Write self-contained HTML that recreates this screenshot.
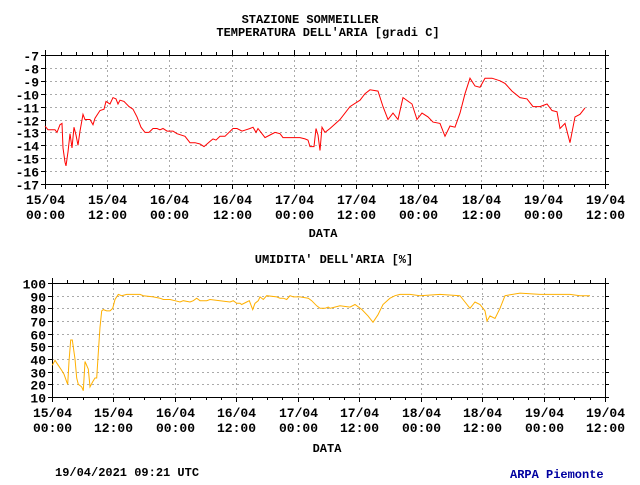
<!DOCTYPE html>
<html><head><meta charset="utf-8"><style>
body{margin:0;background:#fff}
svg text{font-family:"Liberation Mono",monospace;font-weight:bold;fill:#000}
</style></head><body>
<svg id="s" width="640" height="480" xmlns="http://www.w3.org/2000/svg">
<text x="310" y="23" font-size="12" text-anchor="middle">STAZIONE SOMMEILLER</text>
<text x="328" y="36" font-size="12" text-anchor="middle">TEMPERATURA DELL'ARIA [gradi C]</text>
<text x="323" y="237" font-size="12" text-anchor="middle">DATA</text>
<text x="334" y="263" font-size="12" text-anchor="middle">UMIDITA' DELL'ARIA [%]</text>
<text x="327" y="452" font-size="12" text-anchor="middle">DATA</text>
<text x="55" y="476" font-size="12">19/04/2021 09:21 UTC</text>
<text x="510" y="478" font-size="12" style="fill:#0000a0">ARPA Piemonte</text>
<g id="g"></g>
</svg>
<script>
const NS="http://www.w3.org/2000/svg",g=document.getElementById('g');
function el(t,a,txt){const e=document.createElementNS(NS,t);for(const k in a)e.setAttribute(k,a[k]);if(txt!==undefined)e.textContent=txt;g.appendChild(e);return e;}
function chart(L,R,T,B,vmax,vmin,step,labels,data,col,ylab){
  const yv=v=>T+(vmax-v)/(vmax-vmin)*(B-T);
  for(let v=vmax;v>=vmin-1e-9;v-=step){const y=Math.round(yv(v))+0.5;
    if(v<vmax&&v>vmin)el('line',{x1:L,x2:R,y1:y,y2:y,stroke:'#aaa','stroke-dasharray':'2,3'});
    el('line',{x1:L-4,x2:L,y1:y,y2:y,stroke:'#000'});el('line',{x1:R,x2:R+4,y1:y,y2:y,stroke:'#000'});
    el('text',{x:L-6,y:y+5,'font-size':13,'text-anchor':'end'},String(v));}
  const dx=(R-L)/9;
  for(let i=0;i<=9;i++){const x=Math.round(L+i*dx)+0.5;
    if(i>0&&i<9)el('line',{x1:x,x2:x,y1:T,y2:B,stroke:'#aaa','stroke-dasharray':'2,3'});
    el('line',{x1:x,x2:x,y1:B,y2:B+5,stroke:'#000'});el('line',{x1:x,x2:x,y1:T-5,y2:T,stroke:'#000'});
    el('text',{x:x,y:B+20,'font-size':13,'text-anchor':'middle'},labels[i][0]);
    el('text',{x:x,y:B+35,'font-size':13,'text-anchor':'middle'},labels[i][1]);
    if(i<9)for(let j=1;j<4;j++){const xx=Math.round(L+i*dx+j*dx/4)+0.5;el('line',{x1:xx,x2:xx,y1:B,y2:B+3,stroke:'#000'});el('line',{x1:xx,x2:xx,y1:T-3,y2:T,stroke:'#000'});}}
  el('rect',{x:L+0.5,y:T+0.5,width:R-L,height:B-T,fill:'none',stroke:'#000','stroke-width':1});
  el('polyline',{points:data.map(p=>p[0]+','+yv(p[1]).toFixed(1)).join(' '),fill:'none',stroke:col,'stroke-width':1});
}
const labs=[["15/04","00:00"],["15/04","12:00"],["16/04","00:00"],["16/04","12:00"],["17/04","00:00"],["17/04","12:00"],["18/04","00:00"],["18/04","12:00"],["19/04","00:00"],["19/04","12:00"]];
const t=[[45,-12.5],[48,-12.8],[55,-12.8],[57,-13],[60,-12.4],[62,-12.3],[63,-14.2],[65,-15.3],[66,-15.6],[68,-14.5],[70,-13.1],[72,-14.2],[74,-12.6],[76,-13.2],[78,-14],[80,-12.9],[83,-11.6],[85,-12],[90,-12],[93,-12.4],[95,-11.9],[100,-11.3],[104,-11.2],[106,-10.6],[110,-10.8],[113,-10.3],[116,-10.4],[118,-10.8],[120,-10.5],[124,-10.6],[129,-11],[133,-11.2],[137,-11.8],[141,-12.6],[145,-13],[149,-13],[153,-12.7],[157,-12.7],[160,-12.8],[163,-12.7],[167,-12.9],[173,-12.9],[177,-13.1],[185,-13.3],[190,-13.8],[195,-13.8],[200,-13.9],[204,-14.1],[210,-13.7],[213,-13.5],[216,-13.6],[220,-13.3],[225,-13.3],[233,-12.7],[237,-12.7],[242,-12.9],[246,-12.8],[250,-12.7],[253,-12.6],[256,-13],[258,-12.7],[262,-13.1],[265,-13.4],[270,-13.2],[275,-13],[280,-13.1],[283,-13.4],[300,-13.4],[305,-13.5],[308,-13.6],[310,-14.1],[314,-14.1],[316,-12.7],[318,-13.2],[320,-14.4],[322,-12.6],[325,-13],[330,-12.7],[340,-12],[350,-11],[360,-10.5],[365,-10],[370,-9.7],[378,-9.8],[383,-11],[388,-12],[393,-11.5],[398,-12],[403,-10.3],[412,-10.8],[417,-12],[422,-11.5],[428,-11.8],[433,-12.2],[440,-12.3],[445,-13.3],[450,-12.5],[455,-12.6],[460,-11.5],[465,-10],[470,-8.8],[475,-9.4],[480,-9.5],[485,-8.8],[492,-8.8],[500,-9],[505,-9.2],[512,-9.8],[520,-10.3],[527,-10.4],[533,-11],[540,-11],[547,-10.8],[552,-11.3],[557,-11.4],[560,-12.7],[565,-12.3],[570,-13.8],[575,-11.8],[580,-11.6],[585,-11.1]];
chart(45,605,55,184,-7,-17,1,labs,t,'#f00');
const hz=[[157,35],[165,39],[175,35],[185,31],[192,28],[200,22],[203,20],[207,38],[212,55],[217,55],[225,40],[230,25],[235,20],[245,18],[250,15],[255,38],[265,32],[270,18],[278,22],[285,25],[290,25],[295,45],[300,65],[305,78],[310,79],[320,78],[330,78],[338,80],[345,87],[355,91],[365,90],[380,91],[420,91],[430,90],[460,89],[480,88],[490,87],[510,87],[525,86],[540,85],[550,86],[570,85],[580,86],[590,88],[600,86],[620,86],[630,87],[660,86],[690,85],[700,86],[710,84],[720,84],[725,83],[740,85],[748,86],[758,79],[765,84],[775,86],[780,89],[790,87],[800,90],[830,89],[840,88],[850,88],[860,87],[870,90],[880,89],[900,89],[925,88],[935,86],[950,82],[960,80],[975,80],[985,81]].map(p=>[(p[0]/3).toFixed(1),p[1]]);
const hr=[[330,80],[340,82],[350,81],[355,83],[362,79],[368,74],[373,69],[378,75],[383,83],[390,88],[395,90],[400,91],[410,91],[420,90],[440,91],[460,90],[465,85],[470,80],[475,85],[480,83],[485,78],[487,70],[490,74],[495,72],[500,80],[505,90],[520,92],[540,91],[570,91],[580,90],[590,90]];
chart(52,605,283,397,100,10,10,labs,hz.concat(hr),'#ffb000');
</script>
</body></html>
